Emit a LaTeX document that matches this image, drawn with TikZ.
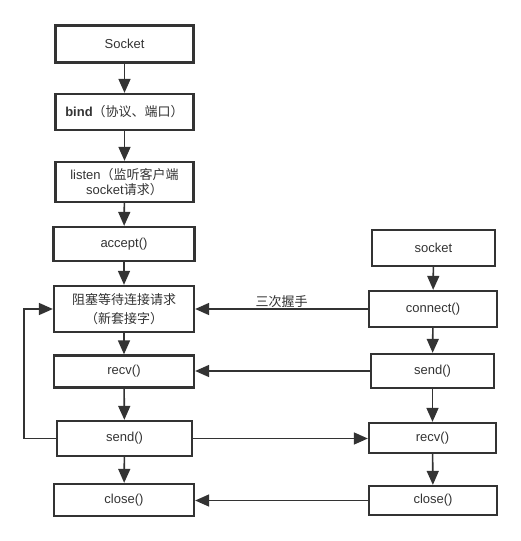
\documentclass[tikz,border=0pt]{standalone}
\usepackage{fontspec}
\setmainfont{Liberation Sans}
\newfontfamily\cjk{Noto Sans CJK SC}
\usepackage{tikz}
\usetikzlibrary{arrows.meta}
\definecolor{ink}{HTML}{333333}

\begin{document}
\begin{tikzpicture}[x=1pt,y=-1pt,
  box/.style={draw=ink, line width=2.3pt, rectangle, text=ink, align=center,
    font=\fontsize{13}{15}\selectfont, inner sep=0pt},
  flow/.style={draw=ink, line width=1.6pt, -{Triangle[length=14pt,width=12pt]}}]
\useasboundingbox (0,0) rectangle (521,541);
% server side
\node[box, minimum width=138pt, minimum height=37pt] (sock) at (124.5,44) {Socket};
\node[box, minimum width=138pt, minimum height=36pt] (bind) at (124.5,112) {\textbf{bind}{\cjk（协议、端口）}};
\node[box, minimum width=138pt, minimum height=40pt] (listen) at (124.5,182) {listen{\cjk（监听客户端}\\socket{\cjk 请求）}};
\node[box, minimum width=141pt, minimum height=34pt] (accept) at (124,244) {accept()};
\node[box, minimum width=140pt, minimum height=46pt, font=\fontsize{13}{19}\selectfont] (wait) at (124,309) {{\cjk 阻塞等待连接请求}\\{\cjk（新套接字）}};
\node[box, minimum width=140pt, minimum height=32pt] (recvL) at (124,371.5) {recv()};
\node[box, minimum width=135pt, minimum height=35pt] (sendL) at (124.5,438.5) {send()};
\node[box, minimum width=140pt, minimum height=32pt] (closeL) at (124,500) {close()};
% client side
\node[box, minimum width=123pt, minimum height=36pt] (sockR) at (433.5,248) {socket};
\node[box, minimum width=128pt, minimum height=36pt] (conn) at (433,309) {connect()};
\node[box, minimum width=123pt, minimum height=34pt] (sendR) at (432.5,371) {send()};
\node[box, minimum width=127pt, minimum height=30pt] (recvR) at (432.5,438) {recv()};
\node[box, minimum width=128pt, minimum height=29pt] (closeR) at (433,500.5) {close()};
% down the columns
\draw[flow] (sock) -- (bind);
\draw[flow] (bind) -- (listen);
\draw[flow] (listen) -- (accept);
\draw[flow] (accept) -- (wait);
\draw[flow] (wait) -- (recvL);
\draw[flow] (recvL) -- (sendL);
\draw[flow] (sendL) -- (closeL);
\draw[flow] (sockR) -- (conn);
\draw[flow] (conn) -- (sendR);
\draw[flow] (sendR) -- (recvR);
\draw[flow] (recvR) -- (closeR);
% across
\draw[flow] (conn.west) -- node[above, text=ink, font=\cjk\fontsize{13}{15}\selectfont, inner sep=1pt] {三次握手} (conn.west -| wait.east);
\draw[flow] (sendR.west) -- (sendR.west -| recvL.east);
\draw[flow] (sendL.east) -- (sendL.east -| recvR.west);
\draw[flow] (closeR.west) -- (closeR.west -| closeL.east);
\draw[flow] (sendL.west) -- ++(-32,0) |- (wait.west);
\end{tikzpicture}
\end{document}
